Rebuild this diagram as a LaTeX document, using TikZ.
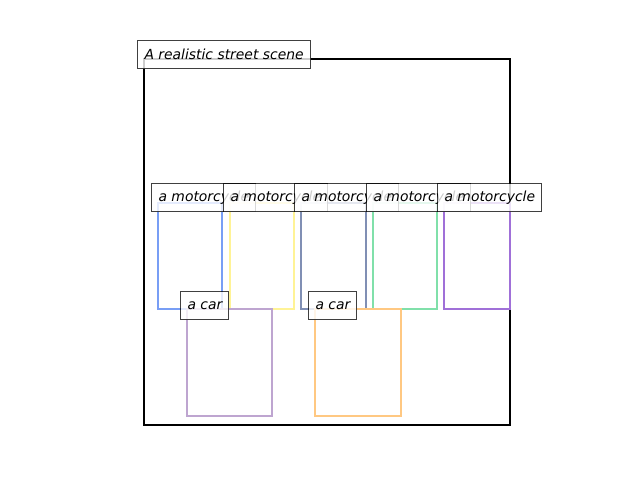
\documentclass[tikz,border=0pt]{standalone}
\usepackage{fontspec}
\setmainfont{DejaVu Sans}
\definecolor{mcA}{RGB}{120,158,245}
\definecolor{mcB}{RGB}{255,243,150}
\definecolor{mcC}{RGB}{128,143,180}
\definecolor{mcD}{RGB}{128,224,170}
\definecolor{mcE}{RGB}{160,112,216}
\definecolor{carA}{RGB}{190,165,208}
\definecolor{carB}{RGB}{255,200,130}
\tikzset{
  objbox/.style={line width=1.9pt},
  framebox/.style={line width=1.9pt, draw=black},
  lbl/.style={draw=black, draw opacity=0.75, fill=white, fill opacity=0.8, text opacity=1,
    anchor=north west, inner xsep=5.04pt, inner ysep=0pt, minimum height=20.16pt,
    line width=0.8pt, font=\fontsize{10pt}{12pt}\selectfont\itshape}
}
\newcommand{\mclabel}[1]{\makebox[64.8pt][l]{#1}}
\newcommand{\carlabel}[1]{\makebox[24.48pt][l]{#1}}
\newcommand{\ttllabel}[1]{\makebox[114.48pt][l]{#1}}
\begin{document}
\begin{tikzpicture}[x=0.72pt,y=-0.72pt]
\useasboundingbox (0,0) rectangle (640,480);
% frame
\draw[framebox] (144,59) rectangle (510,425);
% object boxes
\draw[objbox, draw=mcA] (158,203) rectangle (222,309);
\draw[objbox, draw=mcB] (230,203) rectangle (294,309);
\draw[objbox, draw=mcC] (301,203) rectangle (366,309);
\draw[objbox, draw=mcD] (373,203) rectangle (437,309);
\draw[objbox, draw=mcE] (444,203) rectangle (510,309);
\draw[objbox, draw=carA] (187,309) rectangle (272,416);
\draw[objbox, draw=carB] (315,309) rectangle (401,416);
% labels
\node[lbl] (title) at (137,40) {\ttllabel{A realistic street scene}};
\node[lbl] (m1) at (151,183) {\mclabel{a motorcycle}};
\node[lbl] (m2) at (223,183) {\mclabel{a motorcycle}};
\node[lbl] (m3) at (294,183) {\mclabel{a motorcycle}};
\node[lbl] (m4) at (366,183) {\mclabel{a motorcycle}};
\node[lbl] (m5) at (437,183) {\mclabel{a motorcycle}};
\node[lbl] (c1) at (180,291) {\carlabel{a car}};
\node[lbl] (c2) at (308,291) {\carlabel{a car}};
\end{tikzpicture}
\end{document}
